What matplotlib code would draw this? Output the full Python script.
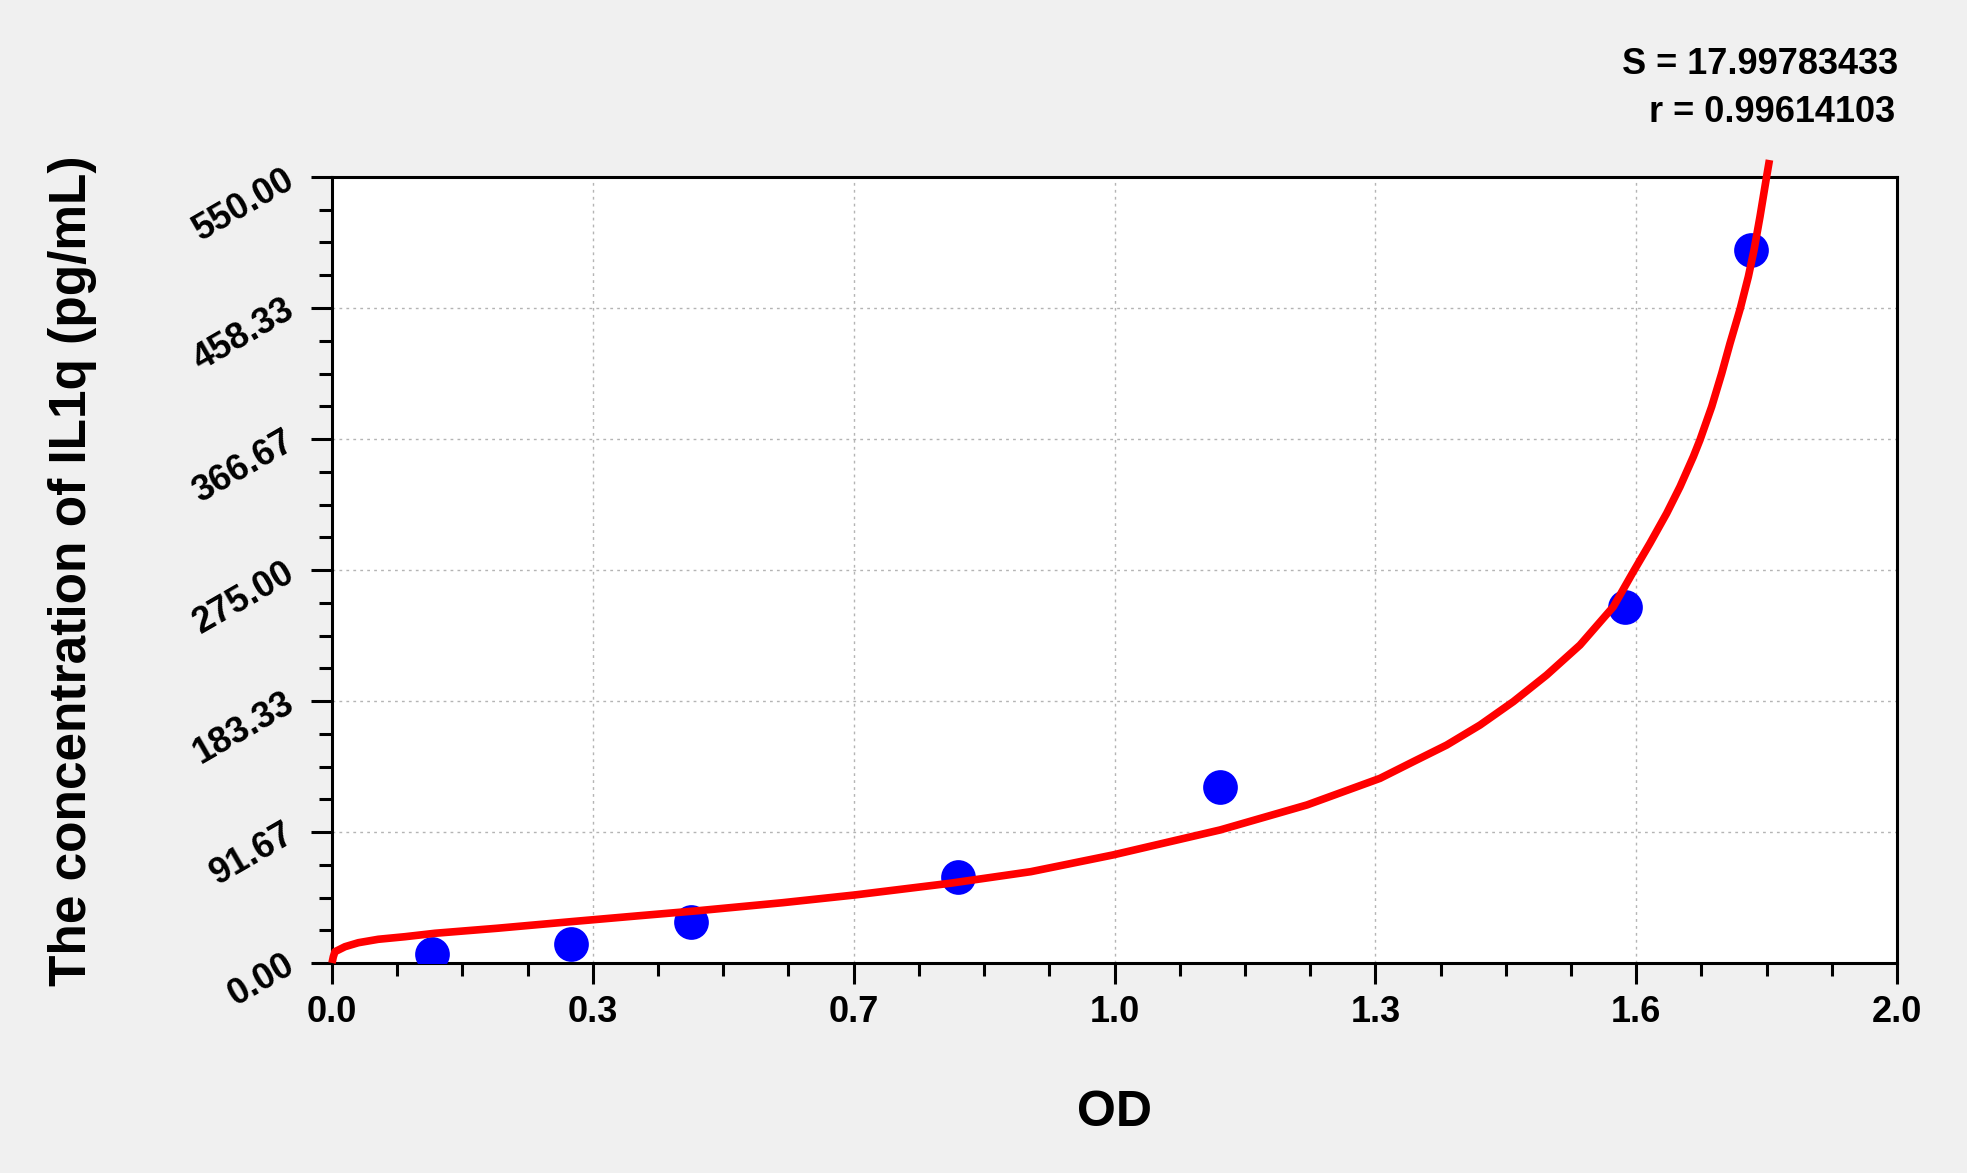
import numpy as np
import matplotlib
matplotlib.use("Agg")
import matplotlib.pyplot as plt
from matplotlib.ticker import FixedLocator, MultipleLocator

plt.rcParams['font.family'] = ['Liberation Sans', 'DejaVu Sans']
plt.rcParams['font.weight'] = 'bold'

# measured standards
od_points = [0.128, 0.305, 0.459, 0.800, 1.135, 1.652, 1.814]
conc_points = [6.3, 13.1, 28.9, 60.4, 123.4, 248.9, 498.8]

# fitted curve
curve_od = [0.0, 0.0017, 0.0038, 0.0166, 0.0337, 0.0592, 0.0933, 0.1316, 0.211,
            0.305, 0.393, 0.468, 0.576, 0.668, 0.790, 0.893, 0.998, 1.135,
            1.246, 1.3393, 1.3819, 1.4245, 1.4671, 1.5097, 1.5523, 1.5949,
            1.6375, 1.663, 1.6843, 1.7057, 1.7227, 1.7397, 1.7482, 1.7632,
            1.776, 1.7866, 1.7995, 1.810, 1.8173, 1.8249, 1.8335, 1.837]
curve_conc = [0.0, 4.4, 7.9, 11.4, 14.2, 16.6, 18.4, 20.8, 24.3,
              28.9, 33.1, 36.6, 42.2, 47.6, 55.8, 63.9, 75.6, 93.1,
              110.6, 129.2, 140.9, 152.5, 166.5, 182.9, 201.5, 222.5,
              249.3, 273.8, 293.7, 314.7, 333.3, 354.3, 366.0, 389.3,
              412.6, 433.6, 457.6, 480.2, 498.9, 522.2, 550.7, 561.9]

x_ticks = [0.0, 1/3, 2/3, 1.0, 4/3, 5/3, 2.0]
x_tick_labels = ["0.0", "0.3", "0.7", "1.0", "1.3", "1.6", "2.0"]
y_ticks = [0.0, 550/6, 1100/6, 275.0, 2200/6, 2750/6, 550.0]
y_tick_labels = ["0.00", "91.67", "183.33", "275.00", "366.67", "458.33", "550.00"]

stats_lines = ["S = 17.99783433", "r = 0.99614103"]
x_label = "OD"
y_label = "The concentration of IL1q (pg/mL)"

W, H = 1967, 1173
fig = plt.figure(figsize=(W/100, H/100), dpi=100, facecolor='#f0f0f0')
L, R, T, B = 332, 1897, 177, 963
ax = fig.add_axes([L/W, 1-B/H, (R-L)/W, (B-T)/H])
ax.set_facecolor('white')

ax.set_xlim(0, 2.0)
ax.set_ylim(0, 550)

ax.plot(od_points, conc_points, 'o', color='#0000ff', markersize=25,
        markeredgewidth=0, zorder=3)
ax.plot(curve_od, curve_conc, '-', color='#ff0000', linewidth=5.5,
        zorder=4, clip_on=False, solid_capstyle='butt', solid_joinstyle='round')

ax.xaxis.set_major_locator(FixedLocator(x_ticks))
ax.set_xticklabels(x_tick_labels)
ax.xaxis.set_minor_locator(MultipleLocator(2/24))
ax.yaxis.set_major_locator(FixedLocator(y_ticks))
ax.set_yticklabels(y_tick_labels)
ax.yaxis.set_minor_locator(MultipleLocator(550/24))

ax.tick_params(axis='both', which='major', direction='out', length=15, width=2.2,
               labelsize=26, colors='black')
ax.tick_params(axis='both', which='minor', direction='out', length=9.5, width=2.2)
ax.tick_params(axis='x', which='major', pad=8)
ax.tick_params(axis='y', which='major', pad=14)
for lab in ax.get_yticklabels():
    lab.set_rotation(30)
    lab.set_rotation_mode('anchor')
    lab.set_ha('right')
    lab.set_va('center')
for lab in ax.get_xticklabels() + ax.get_yticklabels():
    lab.set_fontweight('bold')

for s in ax.spines.values():
    s.set_linewidth(2.2)
    s.set_color('black')

ax.grid(True, which='major', color='#b4b4b4', linestyle=(0, (2, 3)), linewidth=1.0)
ax.set_axisbelow(True)

fig.text(1114/W, 1-1113/H, x_label, ha='center', va='center', fontsize=36,
         fontweight='bold')
fig.text(73/W, 1-571/H, y_label, ha='center', va='center', rotation=90,
         fontsize=37, fontweight='bold')
fig.text(1898/W, 1-65/H, stats_lines[0], ha='right', va='center', fontsize=26,
         fontweight='bold')
fig.text(1895/W, 1-113/H, stats_lines[1], ha='right', va='center', fontsize=26,
         fontweight='bold')

fig.savefig('out.png', dpi=100, facecolor=fig.get_facecolor())
